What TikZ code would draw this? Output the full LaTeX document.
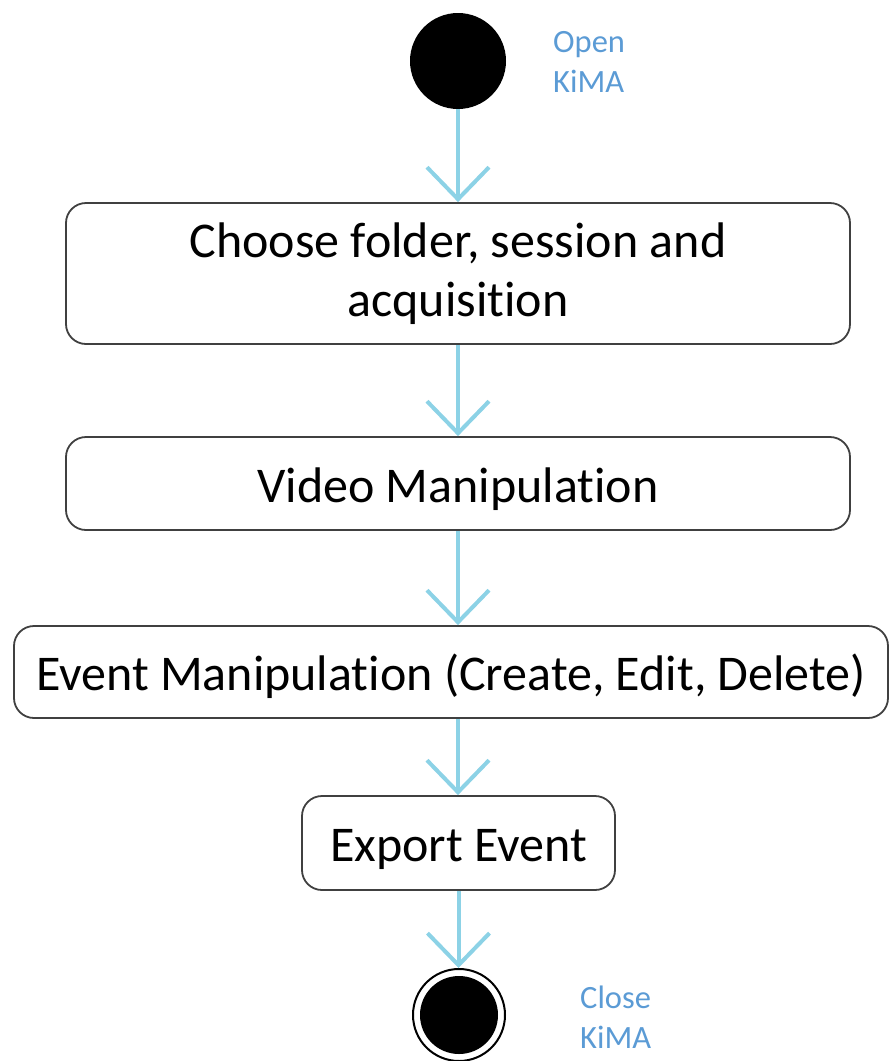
\documentclass[tikz,border=0pt]{standalone}
\usepackage{fontspec}
\setmainfont[Ligatures=NoCommon]{Carlito}
\usetikzlibrary{arrows.meta}
\definecolor{flowblue}{RGB}{140,210,230}
\definecolor{notecol}{RGB}{91,155,213}
\definecolor{edgegray}{RGB}{64,64,64}
\begin{document}
\begin{tikzpicture}[x=1pt,y=-1pt,
  actbox/.style={draw=edgegray, line width=1.8pt, rounded corners=20pt, fill=white,
    align=center, inner sep=0pt, font=\fontsize{50}{59}\selectfont},
  oneline/.style={text height=47pt, text depth=10pt},
  flow/.style={draw=flowblue, line width=4pt,
    -{Straight Barb[length=32pt,width=62pt,line width=4pt]}},
  note/.style={text=notecol, align=left, anchor=west, inner sep=0pt,
    font=\fontsize{32.5}{40}\selectfont}]
\useasboundingbox (0,0) rectangle (890,1061);

% start and end states
\node[circle, fill=black, minimum size=96pt, inner sep=0pt] (start) at (458,61) {};
\node[circle, draw=black, line width=2pt, minimum size=92pt, inner sep=0pt] (stop) at (459,1015) {};
\node[circle, fill=black, minimum size=78pt, inner sep=0pt] (stopdot) at (459,1015) {};

% activities
\node[actbox, minimum width=784pt, minimum height=141pt] (choose) at (458,273.5)
  {Choose folder, session and\\acquisition};
\node[actbox, oneline, minimum width=784pt, minimum height=93pt] (video) at (458,483.5)
  {Video Manipulation};
\node[actbox, oneline, minimum width=874pt, minimum height=92pt] (event) at (451,672)
  {Event Manipulation (Create, Edit, Delete)};
\node[actbox, oneline, minimum width=313pt, minimum height=94pt] (export) at (458.5,843)
  {Export Event};

% notes
\node[note] (opennote) at (553,62) {Open\\KiMA};
\node[note] (closenote) at (580,1017) {Close\\KiMA};

% control flow
\draw[flow] (start.south) -- (start.south |- choose.north);
\draw[flow] (choose.south) -- (choose.south |- video.north);
\draw[flow] (video.south) -- (video.south |- event.north);
\draw[flow] (video.south |- event.south) -- (video.south |- export.north);
\draw[flow] (export.south) -- (export.south |- stop.north);
\end{tikzpicture}
\end{document}
